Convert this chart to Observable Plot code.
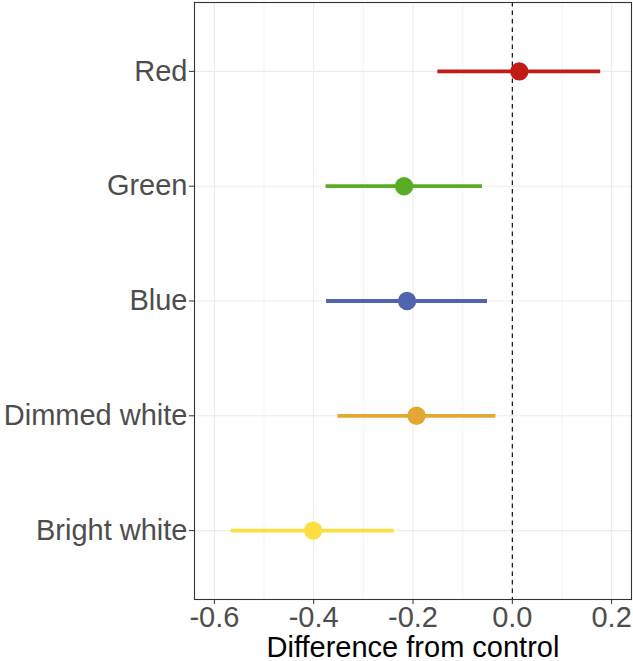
<!DOCTYPE html>
<html>
<head>
<meta charset="utf-8">
<script src="https://cdn.jsdelivr.net/npm/d3@7"></script>
<script src="https://cdn.jsdelivr.net/npm/@observablehq/plot@0.6"></script>
<style>
  html, body { margin: 0; padding: 0; background: white; }
</style>
</head>
<body>
<div id="chart"></div>
<script>
const categories = ["Red", "Green", "Blue", "Dimmed white", "Bright white"];
const estimates = [0.014, -0.218, -0.212, -0.193, -0.401];
const lower = [-0.150, -0.375, -0.374, -0.351, -0.566];
const upper = [0.178, -0.060, -0.050, -0.033, -0.238];
const colors = ["#C11B17", "#58AC26", "#5165AE", "#E2A831", "#FDDE42"];
const majorTicks = [-0.6, -0.4, -0.2, 0.0, 0.2];
const minorTicks = [-0.5, -0.3, -0.1, 0.1];
const referenceLine = [0];

const data = categories.map((c, i) => ({cat: c, est: estimates[i], lo: lower[i], hi: upper[i]}));

const chart = Plot.plot({
  width: 633,
  height: 661,
  marginLeft: 194,
  marginRight: 2,
  marginTop: 2,
  marginBottom: 62,
  style: {fontFamily: "'Liberation Sans', Arial, sans-serif", background: "white"},
  x: {domain: [-0.64, 0.24]},
  y: {type: "point", domain: categories, padding: 0.6, round: false},
  color: {domain: categories, range: colors},
  marks: [
    Plot.ruleX(minorTicks, {stroke: "#EBEBEB", strokeWidth: 0.6}),
    Plot.ruleX(majorTicks, {stroke: "#EBEBEB", strokeWidth: 1.1}),
    Plot.ruleY(categories, {y: d => d, stroke: "#EBEBEB", strokeWidth: 1.1}),
    Plot.ruleX(referenceLine, {stroke: "black", strokeWidth: 1.1, strokeDasharray: "4.5,4"}),
    Plot.ruleY(data, {y: "cat", x1: "lo", x2: "hi", stroke: "cat", strokeWidth: 3.8}),
    Plot.dot(data, {x: "est", y: "cat", fill: "cat", r: 9.2}),
    Plot.frame({stroke: "#333333", strokeWidth: 1.1}),
    Plot.axisX({
      ticks: majorTicks,
      tickFormat: d => d.toFixed(1),
      fontSize: 29,
      tickSize: 5,
      tickPadding: 2,
      stroke: "#333333",
      fill: "#4D4D4D",
      label: "Difference from control",
      labelAnchor: "center",
      labelArrow: "none",
      labelOffset: 57
    }),
    Plot.axisY({
      fontSize: 29,
      tickSize: 5,
      tickPadding: 2,
      stroke: "#333333",
      fill: "#4D4D4D",
      label: null
    })
  ]
});
document.getElementById("chart").appendChild(chart);
chart.querySelectorAll('[aria-label="x-axis label"] text, [aria-label="x-axis label"]').forEach(el => el.setAttribute("fill", "black"));
</script>
</body>
</html>
